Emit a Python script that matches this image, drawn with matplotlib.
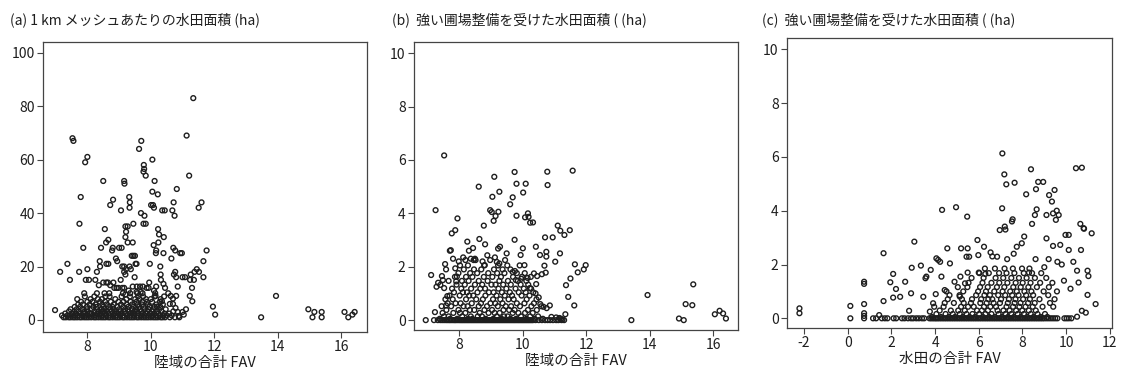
import matplotlib
matplotlib.use("Agg")
import matplotlib.pyplot as plt

plt.rcParams['font.family'] = ['Noto Sans CJK JP', 'DejaVu Sans']

# ---------------- Panel (a): 陸域の合計 FAV vs 水田面積 ----------------
a_sparse_x = [6.98, 7.14, 7.37, 7.45, 7.53, 7.56, 7.75, 7.79, 7.87, 7.93, 8.0, 7.74, 8.0, 7.95, 8.05,
              8.5, 8.55, 8.72, 8.81, 8.43, 8.59, 8.66, 8.39, 8.25, 9.06, 9.16, 9.17, 9.32, 9.34, 9.33,
              9.2, 9.27, 9.22, 9.2, 9.27, 9.43, 9.0, 9.08, 8.8, 8.78, 9.45, 9.5, 9.45, 9.4, 9.55, 9.52,
              9.63, 9.7, 9.78, 9.79, 9.77, 9.84, 9.69, 9.8, 9.77, 9.84, 9.49, 9.97, 10.05, 10.05, 10.12,
              10.22, 10.01, 10.07, 10.1, 10.09, 10.17, 10.23, 10.26, 10.41, 10.24, 10.16, 10.4, 10.36,
              10.44, 10.3, 10.68, 10.72, 10.75, 10.82, 10.71, 10.77, 10.65, 10.93, 10.98, 11.13, 11.21,
              11.34, 10.8, 10.73, 10.77, 11.0, 11.08, 11.26, 11.38, 11.45, 11.52, 11.36, 11.24, 11.3,
              11.23, 11.31, 11.11, 11.0, 11.04, 11.51, 11.6, 11.76, 11.66, 11.66, 11.96, 12.03, 13.48,
              13.95, 14.97, 15.1, 15.16, 15.39, 15.39, 16.11, 16.23, 16.36, 16.43,
              8.3, 8.4, 8.6, 8.66, 8.9, 8.94, 9.1, 9.16, 9.22, 9.16, 9.2, 9.05, 9.33, 9.37, 9.1, 9.16,
              8.85, 8.92, 8.98, 8.72, 8.82, 8.6, 8.65, 8.5, 8.36, 9.43, 9.56, 9.66, 9.75, 9.87, 9.93,
              9.95, 10.17, 10.32, 10.31, 10.4, 10.45, 10.85, 10.55, 10.63, 10.7, 10.8, 10.6, 10.7,
              10.78, 10.85, 10.88, 10.2, 10.35, 10.15, 10.1, 9.55, 9.68, 9.3, 9.2]
a_sparse_y = [3.7, 18, 21, 15, 68, 67, 36, 46, 27, 59, 61, 18, 19, 15, 15,
              52, 34, 43, 45, 27, 29, 30, 22, 15, 41, 52, 51, 46, 44, 42,
              35, 35, 33, 31, 29, 29, 27, 27, 27, 26, 36, 24, 24, 24, 21, 21,
              64, 67, 58, 56.5, 55.5, 54, 40, 39, 36, 36, 16, 21, 60, 48, 52,
              47, 43, 43, 42, 28, 26, 34, 32, 31, 29, 25, 25, 41,
              41, 20, 41, 44, 39, 49, 27, 26, 23, 25, 25, 69, 54,
              83, 16, 17, 18, 16, 16, 17, 18, 19, 18, 15, 15, 12,
              9, 7, 4, 3, 2, 42, 44, 26, 22, 16, 5, 2, 1,
              9, 4, 1, 3, 3, 1, 3, 1, 2, 3,
              18, 20, 21, 21, 23, 22, 20, 20, 19, 18, 17, 15, 20, 19, 12, 12,
              12, 12, 12, 13, 14, 14, 14, 14, 13, 12.5, 12.5, 12.5, 12.5, 12, 12,
              14, 12.5, 15, 17, 13.5, 12, 12.5, 10, 9, 8, 9, 6, 6,
              4.5, 3, 1.5, 5, 7, 9, 11, 10.5, 10.5, 11, 9.5]

a_cluster_y = [1, 1.7, 2.4, 3.2, 4, 4.9, 5.8, 6.8, 7.8, 8.8, 10]
a_cluster_x = [
    [7.25, 7.32, 7.41, 7.47, 7.55, 7.61, 7.68, 7.76, 7.82, 7.9, 7.97, 8.04, 8.12, 8.21, 8.27, 8.35, 8.43,
     8.5, 8.57, 8.66, 8.72, 8.8, 8.88, 8.95, 9.02, 9.11, 9.17, 9.25, 9.33, 9.4, 9.47, 9.56, 9.62, 9.7,
     9.78, 9.85, 9.92, 10.0, 10.08, 10.15, 10.22, 10.31, 10.37, 10.45, 10.6, 10.76, 10.9],
    [7.2, 7.37, 7.44, 7.61, 7.69, 7.83, 7.94, 8.02, 8.17, 8.24, 8.38, 8.46, 8.59, 8.7, 8.81, 8.9, 9.03,
     9.12, 9.26, 9.35, 9.47, 9.58, 9.71, 9.8, 9.94, 10.04, 10.16, 10.28, 10.39, 10.5, 10.66],
    [7.3, 7.52, 7.63, 7.79, 7.88, 8.08, 8.13, 8.31, 8.41, 8.56, 8.67, 8.86, 8.97, 9.08, 9.21, 9.38, 9.44,
     9.61, 9.74, 9.83, 9.98, 10.11, 10.24, 10.43, 10.58],
    [7.42, 7.58, 7.73, 7.91, 8.01, 8.22, 8.36, 8.49, 8.62, 8.77, 8.91, 9.04, 9.16, 9.31, 9.49, 9.57,
     9.7, 9.89, 10.03, 10.19, 10.34, 10.71],
    [7.47, 7.66, 7.84, 7.98, 8.14, 8.3, 8.44, 8.53, 8.72, 8.84, 9.0, 9.19, 9.27, 9.42, 9.53, 9.66,
     9.81, 9.93, 10.07, 10.26, 10.47],
    [7.6, 7.77, 7.99, 8.19, 8.29, 8.5, 8.68, 8.79, 8.94, 9.13, 9.29, 9.46, 9.63, 9.77, 9.96, 10.12, 10.3],
    [7.71, 7.86, 8.07, 8.26, 8.47, 8.61, 8.83, 9.06, 9.24, 9.41, 9.59, 9.72, 9.91, 10.18, 10.38],
    [7.8, 8.0, 8.16, 8.4, 8.56, 8.74, 8.98, 9.14, 9.36, 9.55, 9.73, 9.88, 10.04, 10.29],
    [7.68, 8.1, 8.33, 8.46, 8.88, 9.23, 9.51, 9.65, 9.85, 10.0, 10.31],
    [7.92, 8.22, 8.57, 8.7, 9.08, 9.34, 9.6, 9.76, 10.12, 10.42],
    [7.9, 8.3, 8.54, 8.69, 9.12, 9.35, 9.58, 9.74, 10.14],
]

# ---------------- Panel (b): 陸域の合計 FAV vs 強い圃場整備を受けた水田面積 ----------------
b_sparse_x = [6.94, 7.11, 7.25, 7.28, 7.33, 7.4, 7.48, 7.45, 7.52, 7.23, 7.52, 7.55, 7.58, 7.62, 7.58,
              7.76, 7.87, 7.94, 7.7, 7.73, 7.8, 7.87, 7.92, 7.9, 7.98, 8.25, 8.3, 8.43, 8.12, 8.36,
              8.45, 8.49, 8.61, 8.63, 8.77, 8.81, 8.73, 8.8, 8.88, 8.97, 9.02, 9.08, 9.04, 9.1, 9.14,
              9.23, 9.26, 9.28, 9.22, 9.12, 9.18, 9.26, 9.49, 9.6, 9.68, 9.74, 9.74, 9.8, 9.8, 9.68,
              9.75, 9.78, 9.93, 10.0, 10.01, 10.09, 10.07, 10.16, 10.18, 10.23, 10.32, 10.05, 9.95,
              10.41, 10.54, 10.7, 10.74, 10.74, 10.68, 10.77, 10.78, 10.94, 11.02, 11.1, 11.18, 11.17,
              11.31, 11.48, 11.57, 11.36, 11.5, 11.43, 11.62, 11.64, 11.73, 11.92, 11.98, 11.34,
              13.42, 13.93, 14.92, 15.07, 15.13, 15.34, 15.37, 16.05, 16.2, 16.31, 16.4,
              10.15, 10.25, 10.35, 10.45, 10.6, 10.72, 10.22, 10.4, 10.5, 10.55, 10.65, 10.75, 10.85,
              10.9, 11.05, 11.15, 11.2, 11.25, 10.42]
b_sparse_y = [0, 1.69, 4.12, 1.25, 1.4, 1.32, 1.5, 1.65, 1.2, 0.3, 6.17, 2.1, 1.9, 0.9, 0.55,
              3.25, 3.37, 3.81, 2.6, 2.62, 2.3, 1.94, 1.63, 1.45, 2.2, 2.94, 2.6, 2.7, 2.35, 2.3,
              2.25, 2.3, 5.0, 3.04, 3.54, 2.84, 2.2, 2.06, 2.43, 4.12, 4.05, 3.72, 4.62, 5.37, 3.9,
              4.06, 4.81, 2.75, 2.68, 2.35, 2.18, 2.12, 2.5, 4.34, 4.6, 5.55, 3.01, 5.11, 3.91, 1.8,
              1.84, 1.5, 2.44, 2.69, 4.78, 5.11, 3.85, 4.0, 3.87, 3.65, 3.66, 2.06, 1.55,
              2.75, 2.44, 3.1, 2.56, 2.38, 2.04, 5.56, 5.06, 3.1, 2.19, 3.54, 3.35, 2.5,
              3.19, 3.37, 5.6, 1.31, 1.56, 0.87, 0.55, 2.09, 1.79, 1.9, 2.06, 0.22,
              0, 0.94, 0.06, 0, 0.6, 0.56, 1.34, 0.22, 0.35, 0.25, 0.06,
              1.58, 1.62, 1.75, 1.65, 1.72, 1.78, 1.2, 1.0, 0.85, 0.6, 0.5, 0.45, 0.55,
              0.12, 0.1, 0.08, 0.05, 0.02, 1.35]

b_cluster_y = [0, 0.05, 0.14, 0.27, 0.38, 0.52, 0.63, 0.78, 0.92, 1.04, 1.18, 1.33, 1.47, 1.62,
               1.76, 1.9, 2.05, 2.25]
b_cluster_x = [
    [7.2, 7.32, 7.4, 7.46, 7.52, 7.58, 7.63, 7.68, 7.72, 7.77, 7.82, 7.86, 7.9, 7.95, 8.0, 8.04, 8.08,
     8.12, 8.16, 8.2, 8.24, 8.28, 8.32, 8.36, 8.4, 8.44, 8.48, 8.52, 8.56, 8.6, 8.64, 8.68, 8.72, 8.76,
     8.8, 8.84, 8.88, 8.92, 8.96, 9.0, 9.04, 9.08, 9.12, 9.16, 9.2, 9.24, 9.28, 9.32, 9.36, 9.4, 9.44,
     9.48, 9.52, 9.56, 9.6, 9.64, 9.68, 9.72, 9.76, 9.8, 9.84, 9.88, 9.92, 9.96, 10.0, 10.04, 10.08,
     10.12, 10.16, 10.2, 10.24, 10.28, 10.32, 10.4, 10.5, 10.6, 10.7, 10.78, 10.86, 10.95, 11.05,
     11.12, 11.22, 11.3],
    [7.38, 7.71, 7.93, 8.27, 8.41, 8.83, 9.07, 9.33, 9.61, 9.79, 10.11, 10.37, 10.63],
    [7.52, 7.66, 8.09, 8.36, 8.58, 8.71, 9.18, 9.41, 9.52, 9.94, 10.23, 10.48],
    [7.47, 7.81, 8.02, 8.19, 8.64, 8.92, 9.11, 9.27, 9.68, 9.86, 10.07, 10.31],
    [7.59, 7.97, 8.33, 8.47, 8.79, 9.03, 9.39, 9.57, 9.74, 10.16, 10.44],
    [7.44, 7.74, 8.13, 8.26, 8.61, 8.87, 9.21, 9.46, 9.63, 9.91, 10.27, 10.58],
    [7.63, 7.88, 8.04, 8.39, 8.68, 8.98, 9.13, 9.36, 9.81, 10.05, 10.35],
    [7.56, 7.79, 8.21, 8.53, 8.74, 9.06, 9.29, 9.55, 9.71, 10.12, 10.43],
    [7.69, 8.01, 8.31, 8.44, 8.82, 9.17, 9.43, 9.66, 9.96, 10.21],
    [7.83, 8.11, 8.24, 8.57, 8.93, 9.08, 9.34, 9.59, 9.87, 10.09, 10.33],
    [7.77, 8.06, 8.37, 8.66, 8.81, 9.23, 9.48, 9.77, 10.03, 10.26],
    [7.91, 8.17, 8.49, 8.72, 9.01, 9.14, 9.38, 9.62, 9.93, 10.17],
    [7.66, 8.08, 8.29, 8.61, 8.89, 9.26, 9.53, 9.84, 10.11],
    [7.86, 8.21, 8.41, 8.77, 9.04, 9.31, 9.69, 9.97],
    [7.97, 8.34, 8.56, 8.91, 9.19, 9.42, 9.81, 10.06],
    [8.14, 8.46, 8.69, 9.09, 9.36, 9.61],
    [8.02, 8.27, 8.78, 9.22, 9.51, 9.9],
    [8.19, 8.51, 8.97, 9.44],
]

# ---------------- Panel (c): 水田の合計 FAV vs 強い圃場整備を受けた水田面積 ----------------
c_sparse_x = [-2.21, -2.21, 0.12, 0.12, 0.75, 0.75, 0.75, 0.75, 0.75, 0.75, 1.16, 1.44, 1.64, 1.64,
              1.95, 2.08, 2.08, 2.21, 2.4, 2.63, 2.81, 2.9, 2.93, 3.05, 3.35, 3.46, 3.56, 3.6, 3.76,
              3.8, 3.91, 4.03, 4.06, 4.14, 4.23, 4.32, 4.29, 4.44, 4.56, 4.68, 4.89, 4.96, 5.13, 5.19,
              5.16, 5.37, 5.47, 5.49, 5.44, 5.56, 5.49, 5.94, 5.98, 6.24, 6.54, 6.62, 6.84, 6.96, 7.07,
              7.08, 7.17, 7.19, 7.22, 7.26, 7.52, 7.55, 7.64, 7.74, 7.97, 8.08, 8.17, 8.39, 8.44, 8.57,
              8.65, 8.62, 8.72, 8.95, 9.1, 9.1, 9.22, 9.35, 9.47, 9.4, 9.57, 9.66, 9.53, 9.4, 9.73,
              9.97, 10.12, 10.12, 10.33, 10.5, 10.5, 9.92, 10.02, 10.12, 10.24, 10.45, 10.72, 10.65,
              10.8, 10.82, 10.68, 10.57, 10.98, 11.02, 11.17, 10.98, 10.72, 10.9, 11.35,
              9.8, 9.9, 10.2, 9.2, 9.6, 9.0, 8.6, 8.3, 7.6, 7.3, 6.0, 6.3]
c_sparse_y = [0.37, 0.19, 0.46, 0, 1.36, 1.28, 0.53, 0.19, 0.09, 0, 0, 0.12, 0.64, 2.42,
              1.34, 1.65, 0.77, 1.09, 0.8, 1.36, 0.28, 0.93, 1.88, 2.85, 1.96, 0.8, 1.49, 1.55, 0.25,
              1.8, 0.56, 0.9, 2.23, 2.17, 2.1, 4.03, 1.55, 1.05, 2.6, 2.04, 1.36, 4.13, 0.81, 2.6,
              1.55, 1.3, 3.78, 2.6, 2.29, 2.29, 1.7, 2.91, 2.35, 2.66, 2.45, 2.3, 2.29, 3.28, 4.09,
              6.13, 5.35, 3.41, 3.3, 4.98, 3.6, 3.68, 5.04, 2.66, 2.79, 3.04, 4.61, 5.54, 3.51, 3.84,
              4.05, 4.8, 5.07, 5.07, 3.84, 2.97, 4.58, 4.34, 4.77, 3.9, 4.0, 3.84, 3.66, 2.69, 2.73,
              3.1, 3.1, 2.54, 2.1, 1.77, 0.06, 0, 0, 0, 0, 5.58, 5.6, 3.51,
              3.35, 3.33, 2.54, 1.33, 1.77, 1.57, 3.16, 0.87, 0.28, 0.21, 0.53,
              2.0, 1.4, 1.1, 2.2, 2.1, 1.9, 2.2, 1.7, 2.4, 2.2, 1.7, 1.65]

c_cluster_y = [0, 0.05, 0.16, 0.29, 0.43, 0.57, 0.71, 0.86, 1.0, 1.16, 1.32, 1.5, 1.68, 1.85]
c_cluster_x = [
    [1.3, 1.56, 1.7, 1.82, 2.1, 2.22, 2.48, 2.6, 2.76, 2.9, 3.0, 3.14, 3.26, 3.4, 3.5, 3.74, 3.82,
     3.9, 3.98, 4.05, 4.12, 4.2, 4.28, 4.36, 4.44, 4.52, 4.6, 4.68, 4.76, 4.84, 4.92, 5.0, 5.08, 5.16,
     5.24, 5.32, 5.4, 5.48, 5.56, 5.64, 5.72, 5.8, 5.88, 5.96, 6.04, 6.12, 6.2, 6.28, 6.36, 6.44, 6.52,
     6.6, 6.68, 6.76, 6.84, 6.92, 7.0, 7.08, 7.16, 7.24, 7.32, 7.4, 7.48, 7.56, 7.64, 7.72, 7.8, 7.88,
     7.96, 8.04, 8.12, 8.2, 8.28, 8.36, 8.44, 8.52, 8.6, 8.68, 8.76, 8.84, 8.92, 9.0, 9.1, 9.2, 9.3,
     9.4, 9.5, 9.6],
    [3.86, 4.27, 4.63, 4.91, 5.27, 5.58, 5.83, 6.19, 6.47, 6.73, 7.07, 7.34, 7.61, 7.93, 8.22, 8.51,
     8.83, 9.14],
    [4.06, 4.48, 4.81, 5.13, 5.44, 5.71, 6.02, 6.31, 6.58, 6.91, 7.22, 7.49, 7.78, 8.07, 8.38, 8.69,
     9.03],
    [4.21, 4.72, 5.06, 5.36, 5.92, 6.14, 6.42, 6.86, 7.13, 7.41, 7.71, 7.99, 8.29, 8.61],
    [3.96, 4.39, 5.19, 5.51, 5.77, 6.24, 6.53, 6.79, 7.27, 7.57, 7.86, 8.14, 8.47, 8.92, 9.41],
    [4.44, 4.86, 5.31, 5.64, 6.07, 6.36, 6.68, 6.97, 7.33, 7.64, 7.91, 8.26, 8.56, 9.26],
    [4.58, 5.23, 5.69, 6.11, 6.44, 6.62, 7.02, 7.38, 7.68, 8.03, 8.34, 8.78, 9.47],
    [4.66, 5.12, 5.88, 6.26, 6.51, 6.89, 7.21, 7.53, 7.82, 8.17, 8.49, 9.18],
    [4.52, 5.29, 5.97, 6.33, 6.71, 7.09, 7.44, 7.74, 8.09, 8.41, 8.97, 9.58],
    [5.04, 5.48, 6.06, 6.41, 6.83, 7.17, 7.58, 7.92, 8.27, 8.66, 9.21],
    [5.53, 6.17, 6.58, 6.94, 7.31, 7.69, 8.01, 8.37, 8.81, 9.37],
    [5.67, 6.22, 6.77, 7.12, 7.49, 7.84, 8.19, 8.57, 9.09],
    [6.03, 6.46, 6.93, 7.27, 7.63, 8.06, 8.44, 8.86],
    [6.28, 6.74, 7.18, 7.56, 7.98, 8.32],
]

titles = ["(a) 1 km メッシュあたりの水田面積 (ha)",
          "(b)  強い圃場整備を受けた水田面積 ( (ha)",
          "(c)  強い圃場整備を受けた水田面積 ( (ha)"]
xlabels = ["陸域の合計 FAV", "陸域の合計 FAV", "水田の合計 FAV"]
a_yticks = [0, 20, 40, 60, 80, 100]
bc_yticks = [0, 2, 4, 6, 8, 10]
ab_xticks = [8, 10, 12, 14, 16]
c_xticks = [-2, 0, 2, 4, 6, 8, 10, 12]


def combine(sx, sy, cy, cx):
    xs = list(sx)
    ys = list(sy)
    for yv, row in zip(cy, cx):
        xs.extend(row)
        ys.extend([yv] * len(row))
    return xs, ys


W, H = 1125, 376
fig = plt.figure(figsize=(W / 100, H / 100), dpi=100)
ink = '#1e1e1e'

panels = [
    dict(rect=(43, 42, 367, 332), data=combine(a_sparse_x, a_sparse_y, a_cluster_y, a_cluster_x),
         xlim=(6.6, 16.82), ylim=(-4.5, 104), xt=ab_xticks, yt=a_yticks, tx=10),
    dict(rect=(414, 42, 738, 330), data=combine(b_sparse_x, b_sparse_y, b_cluster_y, b_cluster_x),
         xlim=(6.57, 16.78), ylim=(-0.37, 10.42), xt=ab_xticks, yt=bc_yticks, tx=392),
    dict(rect=(787, 38, 1112, 328), data=combine(c_sparse_x, c_sparse_y, c_cluster_y, c_cluster_x),
         xlim=(-2.78, 12.1), ylim=(-0.36, 10.42), xt=c_xticks, yt=bc_yticks, tx=762),
]

for i, p in enumerate(panels):
    l, t, r, b = p['rect']
    ax = fig.add_axes([l / W, 1 - b / H, (r - l) / W, (b - t) / H])
    xs, ys = p['data']
    ax.scatter(xs, ys, s=12, facecolors='none', edgecolors=ink, linewidths=1.0)
    ax.set_xlim(*p['xlim'])
    ax.set_ylim(*p['ylim'])
    ax.set_xticks(p['xt'])
    ax.set_yticks(p['yt'])
    ax.set_xticklabels([str(v) for v in p['xt']])
    ax.tick_params(direction='out', length=4, width=0.8, colors='#444444', labelcolor=ink,
                   labelsize=10, pad=2)
    for sp in ax.spines.values():
        sp.set_color('#444444')
        sp.set_linewidth(0.9)
    ax.set_xlabel(xlabels[i], fontsize=10.5, color=ink, labelpad=1)
    fig.text(p['tx'] / W, 1 - 20 / H, titles[i], fontsize=10, color=ink, ha='left', va='center')

fig.savefig("out.png", dpi=100)
